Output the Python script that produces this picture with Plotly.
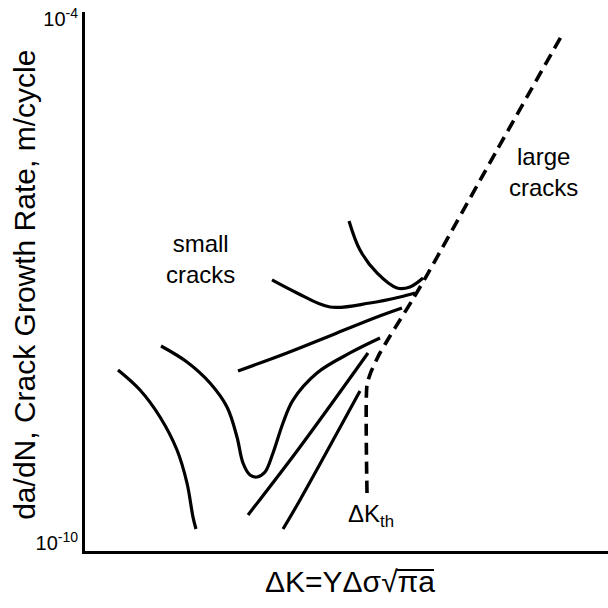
import numpy as np
import plotly.graph_objects as go

# Schematic data: x = ΔK (arbitrary linear units), y given as log10(da/dN)
curve_a_x = [0.631, 1.052, 1.434, 1.759, 1.950, 2.065, 2.122]
curve_a_logy = [-8.019, -8.248, -8.557, -8.935, -9.313, -9.703, -9.840]

curve_b_x = [1.453, 1.950, 2.390, 2.715, 2.906, 3.021, 3.155, 3.289, 3.442, 3.595, 3.786, 3.977, 4.436, 5.067, 5.641]
curve_b_logy = [-7.744, -7.927, -8.168, -8.443, -8.786, -9.084, -9.221, -9.244, -9.187, -8.969, -8.626, -8.363, -8.053, -7.824, -7.653]

curve_c_x = [2.925, 3.862, 4.818, 5.583, 6.061]
curve_c_logy = [-8.030, -7.824, -7.595, -7.412, -7.309]

curve_d_x = [3.117, 4.111, 5.411]
curve_d_logy = [-9.679, -8.900, -7.824]

curve_e_x = [3.786, 4.111, 5.258]
curve_e_logy = [-9.840, -9.507, -8.260]

curve_f_x = [3.576, 4.054, 4.685, 5.449, 6.023, 6.310]
curve_f_logy = [-6.988, -7.137, -7.298, -7.252, -7.183, -7.137]

curve_u_x = [5.048, 5.258, 5.583, 5.966, 6.214, 6.463]
curve_u_logy = [-6.312, -6.645, -6.908, -7.080, -7.068, -6.966]

large_x = [5.392, 5.392, 5.468, 5.641, 5.832, 6.023, 6.272, 6.539, 7.878, 9.120]
large_logy = [-9.427, -8.191, -8.041, -7.824, -7.630, -7.446, -7.206, -6.932, -5.500, -4.183]

y_range_log = [-10.0916, -3.9198]
tick_vals = [1e-10, 1e-4]
tick_text = ["10<sup>-10</sup>", "10<sup>-4</sup>"]

FONT = "Liberation Sans, Arial, Helvetica, sans-serif"

fig = go.Figure()

small_curves = [
    (curve_a_x, curve_a_logy),
    (curve_b_x, curve_b_logy),
    (curve_c_x, curve_c_logy),
    (curve_d_x, curve_d_logy),
    (curve_e_x, curve_e_logy),
    (curve_f_x, curve_f_logy),
    (curve_u_x, curve_u_logy),
]
for xs, ly in small_curves:
    fig.add_trace(go.Scatter(
        x=xs, y=10 ** np.array(ly), mode="lines",
        line=dict(color="black", width=3.2, shape="spline", smoothing=1.0),
        showlegend=False, hoverinfo="skip"))

fig.add_trace(go.Scatter(
    x=large_x, y=10 ** np.array(large_logy), mode="lines",
    line=dict(color="black", width=3.6, dash="12px,7px", shape="spline", smoothing=0.6),
    showlegend=False, hoverinfo="skip"))

fig.update_layout(
    width=608, height=608,
    margin=dict(l=85, r=0, t=12, b=57),
    paper_bgcolor="white", plot_bgcolor="white",
    font=dict(family=FONT, color="black"),
    xaxis=dict(range=[0, 10], showgrid=False, zeroline=False, showticklabels=False,
               ticks="", showline=True, linecolor="black", linewidth=3),
    yaxis=dict(type="log", range=y_range_log, showgrid=False, zeroline=False,
               tickvals=tick_vals, ticktext=tick_text, ticks="",
               tickfont=dict(size=20, family=FONT, color="black"),
               showline=True, linecolor="black", linewidth=3),
    annotations=[
        dict(text="small<br>cracks", x=0.220, y=0.542, xref="paper", yref="paper",
             xanchor="center", yanchor="middle",
             showarrow=False, font=dict(size=24), align="center"),
        dict(text="large<br>cracks", x=0.876, y=0.703, xref="paper", yref="paper",
             xanchor="center", yanchor="middle",
             showarrow=False, font=dict(size=24), align="center"),
        dict(text="ΔK<sub>th</sub>", x=0.547, y=0.065, xref="paper", yref="paper",
             xanchor="center", yanchor="middle",
             showarrow=False, font=dict(size=24)),
        dict(text="da/dN, Crack Growth Rate, m/cycle", x=-0.117, y=0.4935,
             xref="paper", yref="paper", showarrow=False, textangle=-90,
             xanchor="center", yanchor="middle",
             font=dict(size=30)),
        dict(text="ΔK=YΔσ√πa", x=0.507, y=-0.0557, xref="paper", yref="paper",
             xanchor="center", yanchor="middle",
             showarrow=False, font=dict(size=30)),
    ],
    shapes=[
        dict(type="line", xref="paper", yref="paper", x0=0.5966, x1=0.6673,
             y0=-0.0353, y1=-0.0353, line=dict(color="black", width=2)),
    ],
)

fig.write_html("out.html")
